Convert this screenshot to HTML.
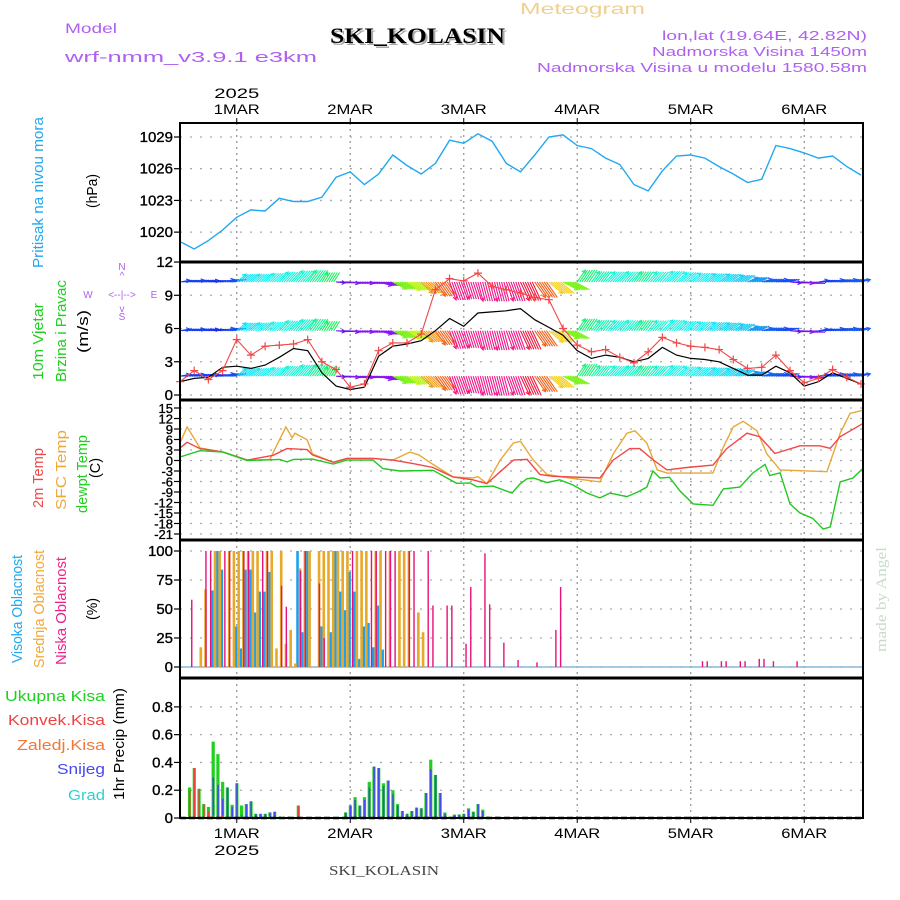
<!DOCTYPE html>
<html><head><meta charset="utf-8"><style>
html,body{margin:0;padding:0;background:#fff;}
svg{display:block;font-family:"Liberation Sans",sans-serif;}
</style></head><body>
<svg id="chart" width="900" height="900" viewBox="0 0 900 900" xmlns="http://www.w3.org/2000/svg">
<g id="header">
<text x="65" y="33" font-size="14" fill="#b060f0" textLength="52" lengthAdjust="spacingAndGlyphs">Model</text>
<text x="65" y="62" font-size="15" fill="#b060f0" textLength="252" lengthAdjust="spacingAndGlyphs">wrf-nmm_v3.9.1 e3km</text>
<text x="520" y="14" font-size="16" fill="#f0d090" textLength="125" lengthAdjust="spacingAndGlyphs">Meteogram</text>
<text x="332" y="45" font-family="Liberation Serif,serif" font-weight="bold" font-size="22" fill="#aaa" textLength="175" lengthAdjust="spacingAndGlyphs">SKI_KOLASIN</text>
<text x="330" y="43" font-family="Liberation Serif,serif" font-weight="bold" font-size="22" fill="#000" textLength="175" lengthAdjust="spacingAndGlyphs">SKI_KOLASIN</text>
<text x="662" y="40" font-size="13" fill="#b060f0" textLength="205" lengthAdjust="spacingAndGlyphs">lon,lat (19.64E, 42.82N)</text>
<text x="652" y="56" font-size="13" fill="#b060f0" textLength="215" lengthAdjust="spacingAndGlyphs">Nadmorska Visina 1450m</text>
<text x="537" y="72" font-size="13" fill="#b060f0" textLength="330" lengthAdjust="spacingAndGlyphs">Nadmorska Visina u modelu 1580.58m</text>
<text transform="translate(886,652) rotate(-90)" font-family="Liberation Serif,serif" font-size="15" fill="#c8dcc8" textLength="105" lengthAdjust="spacingAndGlyphs">made by Angel</text>
<text x="329" y="875" font-family="Liberation Serif,serif" font-size="14" fill="#444" textLength="110" lengthAdjust="spacingAndGlyphs">SKI_KOLASIN</text>
</g>
<g id="left-labels" font-size="15">
<text transform="translate(43,268) rotate(-90)" fill="#20a8f0" textLength="151" lengthAdjust="spacingAndGlyphs">Pritisak na nivou mora</text>
<text transform="translate(97,208) rotate(-90)" fill="#000" textLength="34" lengthAdjust="spacingAndGlyphs">(hPa)</text>
<text transform="translate(43,380) rotate(-90)" fill="#20d020" textLength="77" lengthAdjust="spacingAndGlyphs">10m Vjetar</text>
<text transform="translate(66,382) rotate(-90)" fill="#20d020" textLength="102" lengthAdjust="spacingAndGlyphs">Brzina i Pravac</text>
<text transform="translate(88,353) rotate(-90)" fill="#000" textLength="43" lengthAdjust="spacingAndGlyphs">(m/s)</text>
<g fill="#b060f0" font-size="10" text-anchor="middle">
<text x="122" y="270">N</text><text x="122" y="279">^</text>
<text x="88" y="298">W</text><text x="122" y="298">&lt;--|--&gt;</text><text x="154" y="298">E</text>
<text x="122" y="312">v</text><text x="122" y="320">S</text>
</g>
<text transform="translate(43,508) rotate(-90)" fill="#f04848" textLength="60" lengthAdjust="spacingAndGlyphs">2m Temp</text>
<text transform="translate(66,510) rotate(-90)" fill="#f0a838" textLength="80" lengthAdjust="spacingAndGlyphs">SFC Temp</text>
<text transform="translate(87,513) rotate(-90)" fill="#20d020" textLength="78" lengthAdjust="spacingAndGlyphs">dewpt Temp</text>
<text transform="translate(100,478) rotate(-90)" fill="#000" textLength="20" lengthAdjust="spacingAndGlyphs">(C)</text>
<text transform="translate(22,663) rotate(-90)" fill="#20a8f0" textLength="108" lengthAdjust="spacingAndGlyphs">Visoka Oblacnost</text>
<text transform="translate(44,668) rotate(-90)" fill="#f0a838" textLength="118" lengthAdjust="spacingAndGlyphs">Srednja Oblacnost</text>
<text transform="translate(66,665) rotate(-90)" fill="#f0208a" textLength="108" lengthAdjust="spacingAndGlyphs">Niska Oblacnost</text>
<text transform="translate(97,620) rotate(-90)" fill="#000" textLength="22" lengthAdjust="spacingAndGlyphs">(%)</text>
<text x="5" y="701" fill="#20d020" textLength="100" lengthAdjust="spacingAndGlyphs">Ukupna Kisa</text>
<text x="8" y="725" fill="#f04040" textLength="97" lengthAdjust="spacingAndGlyphs">Konvek.Kisa</text>
<text x="17" y="750" fill="#f07838" textLength="88" lengthAdjust="spacingAndGlyphs">Zaledj.Kisa</text>
<text x="57" y="774" fill="#4848f0" textLength="48" lengthAdjust="spacingAndGlyphs">Snijeg</text>
<text x="68" y="800" fill="#30d0d0" textLength="37" lengthAdjust="spacingAndGlyphs">Grad</text>
<text transform="translate(124,800) rotate(-90)" fill="#000" textLength="112" lengthAdjust="spacingAndGlyphs">1hr Precip (mm)</text>
</g>
<g id="plot"></g>
</svg>
<script>
// ---- data ----
const dayLabels = ["1MAR","2MAR","3MAR","4MAR","5MAR","6MAR"];
const dayHours = [12,36,60,84,108,132];
const yearLabel = "2025";

const presHours = [0,3,6,9,12,15,18,21,24,27,30,33,36,39,42,45,48,51,54,57,60,63,66,69,72,75,78,81,84,87,90,93,96,99,102,105,108,111,114,117,120,123,126,129,132,135,138,141,144];
const presVals = [1019.1,1018.4,1019.2,1020.2,1021.4,1022.1,1022.0,1023.2,1022.9,1022.9,1023.3,1025.2,1025.7,1024.5,1025.5,1027.3,1026.3,1025.5,1026.5,1028.7,1028.4,1029.3,1028.6,1026.5,1025.7,1027.3,1029.0,1029.2,1028.2,1027.9,1027.0,1026.4,1024.5,1023.9,1025.8,1027.2,1027.3,1027.0,1026.2,1025.5,1024.7,1025.0,1028.2,1027.9,1027.5,1027.0,1027.2,1026.2,1025.4];
const presTicks = [1020,1023,1026,1029];

const windHours = presHours;
const windSpeed = [1.2,1.5,1.6,2.5,2.6,2.4,2.7,3.4,4.2,4.0,2.0,0.8,0.5,0.7,3.5,4.4,4.6,4.9,5.8,6.9,6.2,7.4,7.5,7.6,7.8,6.8,6.1,5.4,4.0,3.3,3.6,3.4,3.0,3.3,4.3,3.6,3.3,3.2,3.0,2.4,1.8,1.8,2.6,2.0,0.8,1.2,2.0,1.5,1.0];
const windGust = [1.2,2.2,1.4,2.2,5.0,3.6,4.4,4.5,4.6,5.0,3.0,2.3,0.7,1.0,4.0,4.7,4.7,5.5,9.5,10.5,10.3,11.0,9.8,9.5,9.2,8.8,8.6,6.0,4.5,3.9,4.1,3.4,2.9,3.9,5.2,4.7,4.4,4.3,4.1,3.2,2.4,2.5,3.6,2.2,1.1,1.5,2.3,1.6,1.0];
const windDir = [80,80,82,78,50,48,45,42,40,36,32,95,100,100,105,118,122,135,145,160,162,165,165,160,155,145,130,118,34,38,42,40,36,40,44,46,48,50,52,55,65,75,78,95,100,80,78,76,76];
const windLevels = [10.2,5.8,1.7];
const windTicks = [0,3,6,9,12];

const sfcHours = [0,1.5,4.2,9.1,14.2,19,20.5,22.4,23.7,24.3,26.9,28.0,32.4,35.3,40.8,45,48.6,50.5,53.5,57.7,61.9,63,64.9,67.7,70.5,72,74.7,77.6,82.4,88.8,91.6,94.5,96.2,98.7,100.9,103,112.7,114.9,117,119.1,122,124.1,126.9,136.8,139.6,141.7,144.3];
const sfcVals = [5.0,9.6,3.6,2.4,0.1,0.3,4.4,9.6,6.5,7.8,5.9,1.9,-0.5,0.6,0.6,0.1,2.4,1.6,-1.1,-4.7,-5.0,-4.6,-6.6,0.1,5.0,5.5,0.1,-4.0,-5.0,-6.1,1.9,7.8,8.5,5.0,-2.7,-3.6,-3.6,3.9,9.6,11.2,8.5,1.9,-2.7,-3.2,7.8,13.5,14.3];
const t2Hours = [0,1.5,4.2,9.1,14.2,19.7,22.6,26.9,28.0,32.4,35.3,40.8,45,49.3,53.5,57.7,61.9,64.9,67.7,70.5,73.4,76.1,78.8,88.8,91.6,95.1,97.2,100.1,103,107.2,112.7,115.6,119.9,122.6,125.8,131.1,135.3,137.5,139.6,144.3];
const t2Vals = [3.6,5.2,3.4,2.4,0.1,1.5,3.4,3.1,1.6,-0.5,0.6,0.6,0.1,-0.9,-2.0,-4.7,-5.5,-6.6,-3.2,0.1,0.3,-4.0,-4.5,-5.0,0.1,3.4,3.4,0.1,-2.7,-2.0,-1.3,3.4,7.8,6.8,2.0,4.2,4.2,3.5,6.8,10.5];
const dewHours = [0,4.2,9.1,14.2,21.1,22.6,24,28,32.4,35.3,40.8,42.9,46.5,53.5,58.5,61.3,62.8,66.2,70.2,71.9,73.4,74.7,77.6,80.3,83.1,86.1,88.8,90.9,94.5,96.8,98.7,100,101.5,103.5,105.7,108.5,112.7,114.9,118.4,121.1,123.7,124.7,126.9,129,131.1,133.8,136,137.5,139.6,142.3,144.3];
const dewVals = [1.0,2.8,2.4,0.0,0.3,-0.4,0.3,0.4,-1.0,0.1,0.1,-2.3,-3.0,-2.8,-6.5,-6.4,-7.5,-7.3,-9.3,-6.7,-5.2,-5.0,-6.3,-5.5,-7.0,-9.3,-10.7,-9.3,-10.3,-9.0,-7.6,-3.0,-5.0,-4.8,-8.7,-12.4,-12.8,-8.1,-7.6,-3.6,-1.1,-4.3,-3.5,-12.4,-15.0,-16.5,-19.6,-19.0,-6.1,-5.0,-2.4];
const tempTicks = [15,12,9,6,3,0,-3,-6,-9,-12,-15,-18,-21];

const lowHours = [2,5,6,9,10,13,14,17,18,21,22,25,26,29,30,36,40,41,43,44,45,48,49,52,53,56,57,60,61,64,65,68,71,75,79,80,110,111,114,115,118,119,122,123,125,130];
const lowVals = [58,100,100,100,100,100,100,100,100,70,52,83,100,72,25,100,100,100,100,100,100,100,100,100,53,53,53,20,69,98,54,21,6,4,32,69,5,5,5,5,5,5,7,7,5,5];
const midHours = [4,5,7,8,10,11,12,13,14,15,16,18,19,20,21,22,23,24,25,26,27,29,30,31,32,33,34,35,37,38,39,41,42,44,46,47,48,50,51];
const midVals = [17,67,100,100,100,100,100,100,100,100,100,100,100,16,100,20,32,3,85,100,100,100,100,100,100,100,100,100,100,100,100,100,100,100,100,100,100,47,30];
const highHours = [7,8,9,12,13,14,15,16,17,18,19,25,26,27,30,32,33,34,35,36,37,38,39,40,41,42,43];
const highVals = [66,100,84,35,16,84,84,47,65,65,82,100,30,100,35,30,100,65,49,82,65,7,35,38,17,53,15];
const cloudTicks = [0,25,50,75,100];

const precHours = [2,3,4,5,6,7,8,9,10,11,12,13,14,15,16,17,18,19,20,21,23,25,35,36,37,38,39,40,41,42,43,44,45,46,47,48,49,50,51,52,53,54,55,56,57,58,59,60,61,62,63,64,65,67];
const precTotal = [0.22,0.36,0.21,0.10,0.08,0.55,0.46,0.26,0.22,0.095,0.25,0.09,0.10,0.12,0.03,0.03,0.03,0.04,0.045,0.01,0.01,0.09,0.04,0.09,0.15,0.09,0.15,0.26,0.37,0.36,0.25,0.27,0.20,0.10,0.05,0.03,0.05,0.075,0.07,0.18,0.42,0.31,0.18,0.04,0.01,0.025,0.025,0.03,0.07,0.045,0.10,0.06,0.01,0.01];
const precSnow = [0,0,0,0,0.02,0.29,0.24,0.14,0.22,0.08,0.25,0.02,0.10,0.12,0.03,0.03,0.03,0.04,0.045,0,0,0,0.04,0.09,0.13,0.09,0.13,0.22,0.37,0.36,0.23,0.27,0.17,0.09,0.05,0.03,0.05,0.075,0.07,0.18,0.35,0.31,0.18,0.03,0,0.02,0.025,0.03,0.06,0.045,0.10,0.05,0,0];
const precConv = [0.20,0.36,0.21,0.10,0.05,0.02,0.01,0.02,0,0,0,0,0,0,0,0,0,0,0,0,0,0.09,0,0,0,0,0,0,0,0,0,0,0,0,0,0,0,0,0,0,0,0,0,0,0,0,0,0,0,0,0,0,0,0];
const precTicks = [0,0.2,0.4,0.6,0.8];

// ---- scales ----
const X0 = 180, X1 = 863, PXH = 4.729;
const xS = h => X0 + h * PXH;
const pS = v => 137 + (1029 - v) * 10.57;
const wS = v => 395 - v * 11.08;
const tS = v => 408 + (15 - v) * 3.5;
const cS = v => 667 - v * 1.16;
const rS = v => 818 - v * 138.9;

const NS = "http://www.w3.org/2000/svg";
const plot = document.getElementById("plot");
function mk(tag, attrs, parent) {
  const e = document.createElementNS(NS, tag);
  for (const k in attrs) e.setAttribute(k, attrs[k]);
  (parent || plot).appendChild(e);
  return e;
}
function lineStr(hs, vs, ys) { return hs.map((h, i) => xS(h).toFixed(1) + "," + ys(vs[i]).toFixed(1)).join(" "); }

const panels = [
  {name:"pressure", top:123, bot:262, ticks:presTicks, ys:pS, fmt:v=>String(v)},
  {name:"wind", top:262, bot:400, ticks:windTicks, ys:wS, fmt:v=>String(v)},
  {name:"temperature", top:400, bot:540, ticks:tempTicks, ys:tS, fmt:v=>String(v)},
  {name:"cloud", top:540, bot:678, ticks:cloudTicks, ys:cS, fmt:v=>String(v)},
  {name:"precip", top:678, bot:818, ticks:precTicks, ys:rS, fmt:v=>v===0?"0":v.toFixed(1)}
];

panels.forEach(p => {
  const g = mk("g", {});
  
  
  dayHours.forEach(h => {
    const vl = mk("line", {x1:xS(h), x2:xS(h), y1:p.top, y2:p.bot, stroke:"#999", "stroke-width":1.3, "stroke-dasharray":"2,4"}, g);
    
    
  });
  p.ticks.forEach(v => {
    const y = p.ys(v);
    const gl = mk("line", {x1:X0, x2:X1, y1:y, y2:y, stroke:"#aaa", "stroke-width":1.3, "stroke-dasharray":"2,8"}, g);
    
    
    mk("line", {x1:X0-6, x2:X0, y1:y, y2:y, stroke:"#000", "stroke-width":1.2}, g);
    const fs = p.name === "temperature" ? 13 : 15;
    const t = mk("text", {x:X0-7, y:y+5, "text-anchor":"end", "font-size":fs, fill:"#000", stroke:"#000", "stroke-width":0.35}, g);
    
    
    t.textContent = p.fmt(v);
  });
});

const pl = mk("polyline", {points:lineStr(presHours, presVals, pS), fill:"none", stroke:"#20a8f0", "stroke-width":1.4});



const hueTable = [[20,110],[30,130],[40,170],[50,185],[65,205],[78,225],[90,250],[100,270],[108,272],[112,120],[122,75],[135,35],[148,15],[160,-30],[170,-35]];
function hueOf(d) {
  if (d <= hueTable[0][0]) return hueTable[0][1];
  for (let i = 1; i < hueTable.length; i++) {
    if (d <= hueTable[i][0]) {
      const a = hueTable[i-1], b = hueTable[i];
      return a[1] + (b[1]-a[1]) * (d-a[0]) / (b[0]-a[0]);
    }
  }
  return hueTable[hueTable.length-1][1];
}
const wg = mk("g", {});


windLevels.forEach(lv => {
  const y0 = wS(lv);
  windHours.forEach((h, i) => {
    const d = windDir[i] * Math.PI / 180;
    const L = 8 + 1.6 * windSpeed[i];
    const col = "hsl(" + ((hueOf(windDir[i]) + 360) % 360).toFixed(0) + ",90%,52%)";
    const ag = mk("g", {stroke:col, "stroke-width":1.1, fill:"none"}, wg);
    
    
    for (let k = 0; k < 6; k++) {
      const x = xS(h) + k * 2.36;
      if (x > X1 - 2) break;
      const ex = x + L * Math.sin(d), ey = y0 - L * Math.cos(d);
      mk("line", {x1:x, y1:y0, x2:ex, y2:ey}, ag);
      if (k === 0) {
        const a1 = d + Math.PI - 0.5, a2 = d + Math.PI + 0.5;
        mk("polyline", {points:(ex+4*Math.sin(a1))+","+(ey-4*Math.cos(a1))+" "+ex+","+ey+" "+(ex+4*Math.sin(a2))+","+(ey-4*Math.cos(a2))}, ag);
      }
    }
  });
});
const sl = mk("polyline", {points:lineStr(windHours, windSpeed, wS), fill:"none", stroke:"#000", "stroke-width":1.2});


const gl = mk("polyline", {points:lineStr(windHours, windGust, wS), fill:"none", stroke:"#f04848", "stroke-width":1.1});


windHours.forEach((h, i) => {
  const x = xS(h), y = wS(windGust[i]);
  const m = mk("path", {d:"M"+(x-4)+","+y+"h8M"+x+","+(y-4)+"v8", stroke:"#f04848", "stroke-width":1.2});
  
  
});

[[sfcHours,sfcVals,"#e8a838","sfc-temp-line"],[t2Hours,t2Vals,"#f04848","2m-temp-line"],[dewHours,dewVals,"#20c820","dewpoint-line"]].forEach(s => {
  const l = mk("polyline", {points:lineStr(s[0], s[1], tS), fill:"none", stroke:s[2], "stroke-width":1.4});
  
  
});

const bl = mk("line", {x1:X0, x2:X1, y1:cS(0), y2:cS(0), stroke:"#88b8d8", "stroke-width":1.5});


[[highHours,highVals,"#1ea0f0",-2,2.6,"high-cloud-bar"],[midHours,midVals,"#e8a828",0.6,2.6,"mid-cloud-bar"],[lowHours,lowVals,"#e8107a",1.6,1.4,"low-cloud-bar"]].forEach(s => {
  s[0].forEach((h, i) => {
    const y = cS(s[1][i]);
    const r = mk("rect", {x:xS(h)+s[3], y:y, width:s[4], height:cS(0)-y, fill:s[2]});
    
    
  });
});

precHours.forEach((h, i) => {
  const x = xS(h);
  const y = rS(precTotal[i]);
  const r = mk("rect", {x:x-1.5, y:y, width:3.2, height:818-y, fill:"#20d020"});
  
  
  if (precSnow[i] > 0) {
    const ys = rS(precSnow[i]);
    const s = mk("rect", {x:x-0.6, y:ys, width:1.6, height:818-ys, fill:"#4848f0"});
    
    
  }
  if (precConv[i] > 0) {
    const yc = rS(precConv[i]);
    const c = mk("rect", {x:x-0.6, y:yc, width:1.6, height:818-yc, fill:"#f04040"});
    
    
  }
});

const fr = mk("g", {});


mk("rect", {x:X0, y:123, width:X1-X0, height:695, fill:"none", stroke:"#000", "stroke-width":2}, fr);
[262,400,540,678].forEach(y => mk("line", {x1:X0, x2:X1, y1:y, y2:y, stroke:"#000", "stroke-width":3}, fr));
mk("line", {x1:X0, x2:X1, y1:818, y2:818, stroke:"#000", "stroke-width":2.5, "stroke-dasharray":"6,3"}, fr);

dayHours.forEach((h, i) => {
  const x = xS(h);
  mk("line", {x1:x, x2:x, y1:118, y2:123, stroke:"#000"}, fr);
  mk("line", {x1:x, x2:x, y1:818, y2:823, stroke:"#000"}, fr);
  const t = mk("text", {x:x, y:114, "text-anchor":"middle", "font-size":14, fill:"#000", textLength:46, lengthAdjust:"spacingAndGlyphs"});
  
  
  t.textContent = dayLabels[i];
  const b = mk("text", {x:x, y:838, "text-anchor":"middle", "font-size":14, fill:"#000", textLength:46, lengthAdjust:"spacingAndGlyphs"});
  
  
  b.textContent = dayLabels[i];
});
const ty = mk("text", {x:xS(dayHours[0]), y:98, "text-anchor":"middle", "font-size":14, fill:"#000", textLength:45, lengthAdjust:"spacingAndGlyphs"});


ty.textContent = yearLabel;
const by = mk("text", {x:xS(dayHours[0]), y:855, "text-anchor":"middle", "font-size":14, fill:"#000", textLength:45, lengthAdjust:"spacingAndGlyphs"});


by.textContent = yearLabel;
</script>
</body></html>
